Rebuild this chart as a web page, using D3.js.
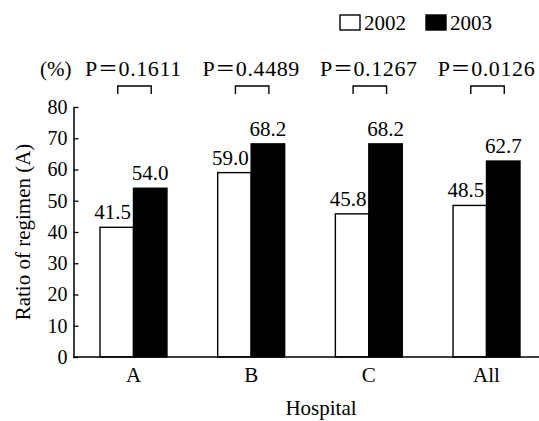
<!DOCTYPE html>
<html>
<head>
<meta charset="utf-8">
<script src="https://cdn.jsdelivr.net/npm/d3@7"></script>
<style>
  html, body { margin: 0; padding: 0; background: #fff; }
  svg { display: block; }
  text { font-family: "Liberation Serif", "Times New Roman", serif; fill: #000; }
</style>
</head>
<body>
<svg id="chart" width="539" height="421"></svg>
<script>
const categories = ["A", "B", "C", "All"];
const seriesNames = ["2002", "2003"];
const values2002 = [41.5, 59.0, 45.8, 48.5];
const values2003 = [54.0, 68.2, 68.2, 62.7];
const labels2002 = ["41.5", "59.0", "45.8", "48.5"];
const labels2003 = ["54.0", "68.2", "68.2", "62.7"];
const pValues = ["0.1611", "0.4489", "0.1267", "0.0126"];
const yTicks = [0, 10, 20, 30, 40, 50, 60, 70, 80];

const svg = d3.select("#chart");

const x0 = d3.scaleBand().domain(categories).range([74, 546]).paddingInner(0.431).paddingOuter(0.221);
const x1 = d3.scaleBand().domain(seriesNames).range([0, x0.bandwidth()]).padding(0);
const y = d3.scaleLinear().domain([0, 80]).range([357, 107]);

const series = [
  {name: "2002", values: values2002, labels: labels2002, fill: "#fff", dx: -4},
  {name: "2003", values: values2003, labels: labels2003, fill: "#000", dx: 0}
];

// bars
series.forEach(s => {
  const g = svg.append("g");
  g.selectAll("rect").data(categories).join("rect")
    .attr("x", (c) => x0(c) + x1(s.name))
    .attr("y", (c, i) => y(s.values[i]))
    .attr("width", x1.bandwidth())
    .attr("height", (c, i) => y(0) - y(s.values[i]))
    .attr("fill", s.fill)
    .attr("stroke", "#000")
    .attr("stroke-width", 1.4);
  g.selectAll("text").data(categories).join("text")
    .attr("x", (c) => x0(c) + x1(s.name) + x1.bandwidth() / 2 + s.dx)
    .attr("y", (c, i) => y(s.values[i]) - 8)
    .attr("text-anchor", "middle")
    .attr("font-size", 21)
    .text((c, i) => s.labels[i]);
});

// y axis
const yAxis = d3.axisLeft(y).tickValues(yTicks).tickSizeInner(-5).tickSizeOuter(0).tickPadding(6);
const gy = svg.append("g").attr("transform", "translate(73.5,0)").call(yAxis);
gy.select(".domain").attr("stroke-width", 1.5);
gy.selectAll(".tick line").attr("stroke-width", 1.3);
gy.selectAll(".tick text").attr("font-size", 20).attr("font-family", "Liberation Serif");

// x axis
const xAxis = d3.axisBottom(x0).tickSize(0).tickPadding(10);
const gx = svg.append("g").attr("transform", "translate(0,357)").call(xAxis);
gx.select(".domain").remove();
gx.selectAll(".tick text").attr("font-size", 21).attr("font-family", "Liberation Serif");
svg.append("line").attr("x1", 73).attr("x2", 539).attr("y1", 357).attr("y2", 357)
  .attr("stroke", "#000").attr("stroke-width", 1.5);

// axis titles
svg.append("text").attr("x", 321).attr("y", 415).attr("text-anchor", "middle")
  .attr("font-size", 21).text("Hospital");
svg.append("text").attr("transform", "translate(30,232) rotate(-90)").attr("text-anchor", "middle")
  .attr("font-size", 21).text("Ratio of regimen (A)");
svg.append("text").attr("x", 40).attr("y", 76).attr("font-size", 21).text("(%)");

// P values and brackets
categories.forEach((c, i) => {
  const xa = x0(c) + x1("2002") + x1.bandwidth() / 2 + 1;
  const xb = x0(c) + x1("2003") + x1.bandwidth() / 2 + 1;
  svg.append("path")
    .attr("d", `M${xa},94 V86 H${xb} V94`)
    .attr("fill", "none").attr("stroke", "#000").attr("stroke-width", 1.4);
  const t = svg.append("text")
    .attr("x", x0(c) + x0.bandwidth() / 2)
    .attr("y", 76)
    .attr("text-anchor", "middle")
    .attr("font-size", 22)
    .attr("letter-spacing", 0.6);
  t.append("tspan").text("P");
  t.append("tspan").attr("font-family", "Noto Sans CJK JP").attr("font-size", 20).text("\uFF1D");
  t.append("tspan").text(pValues[i]);
});

// legend
const legend = svg.append("g");
const legendX = [340, 426];
series.forEach((s, i) => {
  legend.append("rect").attr("x", legendX[i]).attr("y", 15).attr("width", 20).attr("height", 15)
    .attr("fill", s.fill).attr("stroke", "#000").attr("stroke-width", 1.4);
  legend.append("text").attr("x", legendX[i] + 24).attr("y", 30).attr("font-size", 21).text(s.name);
});
</script>
</body>
</html>
